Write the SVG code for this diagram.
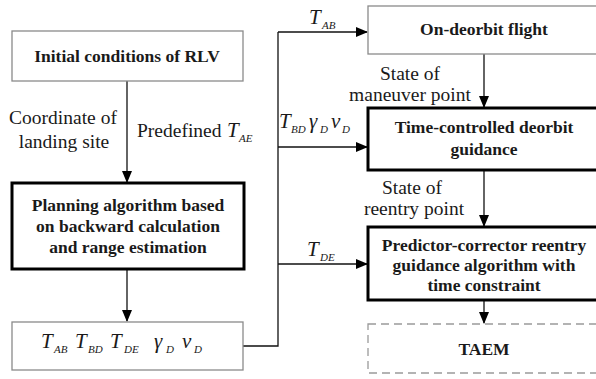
<svg xmlns="http://www.w3.org/2000/svg" width="596" height="379" viewBox="0 0 596 379">
<style>
.thin{fill:#fff;stroke:#8a8a8a;stroke-width:1.3}
.thick{fill:#fff;stroke:#000;stroke-width:3}
.dash{fill:#fff;stroke:#9a9a9a;stroke-width:1.3;stroke-dasharray:8 5}
.b{font-family:"Liberation Serif","Times New Roman",serif;font-weight:bold;font-size:17.5px;fill:#1a1a1a;text-anchor:middle}
.r{font-family:"Liberation Serif","Times New Roman",serif;font-size:19.5px;fill:#1a1a1a}
.i{font-family:"Liberation Serif","Times New Roman",serif;font-style:italic;font-size:21px;fill:#1a1a1a}
.s{font-family:"Liberation Serif","Times New Roman",serif;font-style:italic;font-size:11px;fill:#1a1a1a}
.c{fill:none;stroke:#111;stroke-width:1.3}
</style>
<defs>
<marker id="ah" markerWidth="12" markerHeight="10" refX="11" refY="5" orient="auto" markerUnits="userSpaceOnUse">
<path d="M0,0 L12,5 L0,10 Z" fill="#000"/>
</marker>
</defs>
<rect width="596" height="379" fill="#fff"/>
<g id="connectors">
<path class="c" d="M127,81 V182" marker-end="url(#ah)"/>
<path class="c" d="M127,269 V321" marker-end="url(#ah)"/>
<path class="c" d="M243,346 H278 V32"/>
<path class="c" d="M278,32 H367" marker-end="url(#ah)"/>
<path class="c" d="M278,147 H367" marker-end="url(#ah)"/>
<path class="c" d="M278,264 H367" marker-end="url(#ah)"/>
<path class="c" d="M484,54 V107" marker-end="url(#ah)"/>
<path class="c" d="M484,170 V226" marker-end="url(#ah)"/>
<path class="c" d="M484,300 V323" marker-end="url(#ah)"/>
</g>
<g id="labels">
<text class="r" x="63" y="124" text-anchor="middle">Coordinate of</text>
<text class="r" x="64" y="148" text-anchor="middle">landing site</text>
<text class="r" x="137" y="137">Predefined</text>
<text class="i" x="227" y="137">T</text><text class="s" x="239" y="142">AE</text>
<text class="i" x="309" y="24">T</text><text class="s" x="322" y="29">AB</text>
<text class="i" x="279" y="128">T</text><text class="s" x="291" y="133">BD</text>
<text class="i" x="309" y="128">γ</text><text class="s" x="320" y="133">D</text>
<text class="i" x="331" y="128">v</text><text class="s" x="342" y="133">D</text>
<text class="i" x="307" y="256">T</text><text class="s" x="320" y="261">DE</text>
<text class="r" x="410" y="80" text-anchor="middle">State of</text>
<text class="r" x="410" y="101" text-anchor="middle">maneuver point</text>
<text class="r" x="412" y="194" text-anchor="middle">State of</text>
<text class="r" x="414" y="215" text-anchor="middle">reentry point</text>
</g>
<g id="initial">
<rect class="thin" x="12" y="31" width="231" height="50"/>
<text class="b" x="127" y="62">Initial conditions of RLV</text>
</g>
<g id="planning">
<rect class="thick" x="12" y="183" width="232" height="86"/>
<text class="b" x="128" y="211">Planning algorithm based</text>
<text class="b" x="128" y="232">on backward calculation</text>
<text class="b" x="128" y="253">and range estimation</text>
</g>
<g id="params">
<rect class="thin" x="12" y="322" width="231" height="48"/>
<text class="i" x="41" y="348">T</text><text class="s" x="54" y="353">AB</text>
<text class="i" x="75" y="348">T</text><text class="s" x="88" y="353">BD</text>
<text class="i" x="110" y="348">T</text><text class="s" x="124" y="353">DE</text>
<text class="i" x="154" y="348">γ</text><text class="s" x="166" y="353">D</text>
<text class="i" x="182" y="348">v</text><text class="s" x="194" y="353">D</text>
</g>
<g id="ondeorbit">
<rect class="thin" x="368" y="6" width="240" height="48"/>
<text class="b" x="484" y="35">On-deorbit flight</text>
</g>
<g id="timecontrolled">
<rect class="thick" x="368" y="108" width="240" height="62"/>
<text class="b" x="484" y="133">Time-controlled deorbit</text>
<text class="b" x="484" y="155">guidance</text>
</g>
<g id="predictor">
<rect class="thick" x="368" y="227" width="240" height="73"/>
<text class="b" x="484" y="251">Predictor-corrector reentry</text>
<text class="b" x="484" y="271">guidance algorithm with</text>
<text class="b" x="484" y="291">time constraint</text>
</g>
<g id="taem">
<rect class="dash" x="368" y="324" width="240" height="49"/>
<text class="b" x="484" y="355">TAEM</text>
</g>
</svg>
